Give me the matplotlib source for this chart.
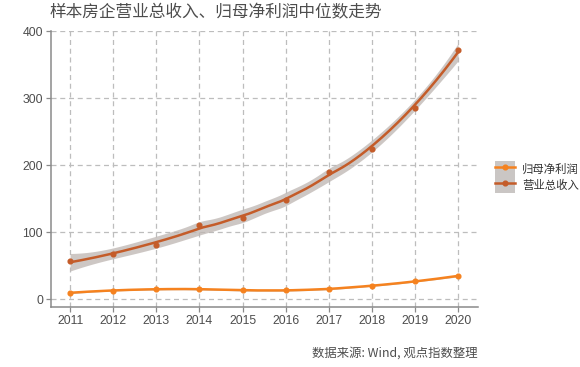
import numpy as np
import matplotlib
matplotlib.use("Agg")
import matplotlib.pyplot as plt
from matplotlib.lines import Line2D
from matplotlib.patches import Patch

plt.rcParams['font.family'] = ['Noto Sans CJK SC', 'DejaVu Sans']

years = [2011, 2012, 2013, 2014, 2015, 2016, 2017, 2018, 2019, 2020]
revenue = [56.5, 67, 81.5, 111, 122, 148, 189.5, 225, 285, 372]
profit = [9.8, 12.8, 16, 15, 13.4, 13.4, 15.4, 20.3, 27.3, 34.7]
series_names = ['归母净利润', '营业总收入']
title = '样本房企营业总收入、归母净利润中位数走势'
caption = '数据来源: Wind, 观点指数整理'

c_profit = '#F5821F'
c_rev = '#C45C29'
band_col = '#BDB5B1'


def loess(x, y, xs, span=0.75):
    x = np.asarray(x, float); y = np.asarray(y, float)
    n = len(x)
    q = int(np.floor(span * n))
    def op(x0):
        d = np.abs(x - x0)
        h = np.sort(d)[q - 1]
        u = np.clip(d / h, 0, 1)
        w = (1 - u ** 3) ** 3
        X = np.vstack([np.ones(n), x - x0, (x - x0) ** 2]).T
        W = np.diag(w)
        A = np.linalg.pinv(X.T @ W @ X) @ X.T @ W
        return A[0]
    L = np.array([op(xi) for xi in x])
    fit = L @ y
    res = y - fit
    I = np.eye(n)
    M = (I - L).T @ (I - L)
    d1 = np.trace(M)
    s2 = np.sum(res ** 2) / d1
    Ls = np.array([op(x0) for x0 in xs])
    yhat = Ls @ y
    se = np.sqrt(s2 * np.sum(Ls ** 2, axis=1))
    return yhat, se

fig = plt.figure(figsize=(5.8, 3.67), dpi=100)
ax = fig.add_axes([50.7 / 580, 1 - 307 / 367, (477.5 - 50.7) / 580, (307 - 31) / 367])

xs = np.linspace(2011, 2020, 200)
tval = 2.6
for vals, col in [(revenue, c_rev), (profit, c_profit)]:
    yh, se = loess(years, vals, xs)
    ax.fill_between(xs, yh - tval * se, yh + tval * se, color=band_col, alpha=0.75, lw=0, zorder=2)
    ax.plot(xs, yh, color=col, lw=1.8, zorder=3)
    ax.plot(years, vals, 'o', color=col, ms=3.4, zorder=4)

ax.set_xlim(2010.55, 2020.45)
ax.set_ylim(-11.5, 400.5)
ax.set_xticks(years)
ax.set_yticks([0, 100, 200, 300, 400])
ax.grid(True, color='#BDBDBD', ls=(0, (4, 3)), lw=0.9)
ax.set_axisbelow(True)
for s in ['top', 'right']:
    ax.spines[s].set_visible(False)
for s in ['left', 'bottom']:
    ax.spines[s].set_color('#8A8A8A')
    ax.spines[s].set_linewidth(1.1)
ax.tick_params(colors='#8A8A8A', length=3.5, width=0.9, labelsize=8.8, labelcolor='#4D4D4D', pad=2)
for lab in ax.get_xticklabels() + ax.get_yticklabels():
    lab.set_family(['Liberation Sans', 'DejaVu Sans'])

fig.text(50 / 580, 1 - 13 / 367, title, fontsize=12, color='#4D4D4D', va='center', ha='left')
fig.text(478 / 580, 1 - 353 / 367, caption, fontsize=8.9, color='#4D4D4D', va='center', ha='right')

handles = [
    (Patch(facecolor='#CAC6C4', edgecolor='none'), Line2D([], [], color=c_profit, lw=1.8, marker='o', ms=3.4)),
    (Patch(facecolor='#CAC6C4', edgecolor='none'), Line2D([], [], color=c_rev, lw=1.8, marker='o', ms=3.4)),
]
leg = fig.legend(handles, series_names, loc='center left', bbox_to_anchor=(489 / 580, 1 - 177 / 367),
                 frameon=False, fontsize=8.2, handlelength=1.8, handleheight=1.75,
                 labelspacing=0.0, handletextpad=0.6, borderpad=0)
for t in leg.get_texts():
    t.set_color('#333333')

fig.savefig('out.png', dpi=100)
